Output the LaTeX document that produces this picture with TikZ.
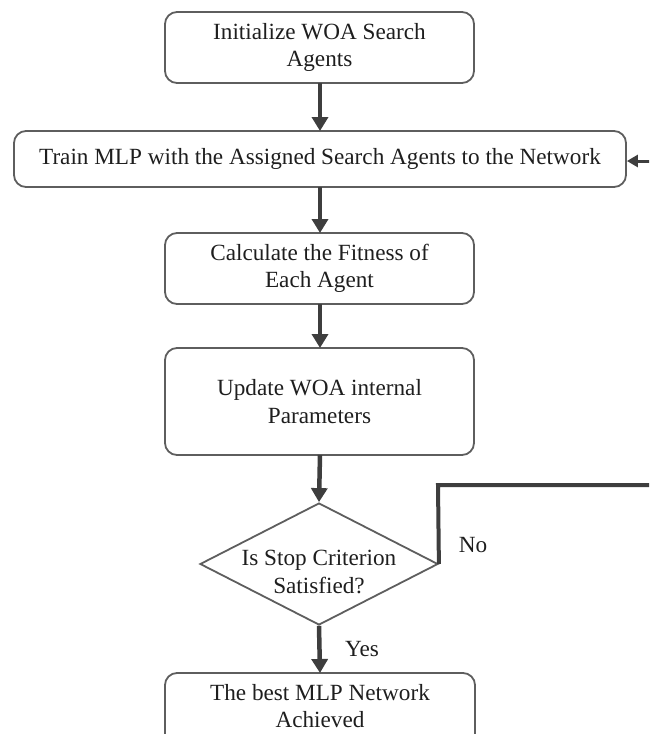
\documentclass[tikz,border=0pt]{standalone}
\usepackage{fontspec}
\setmainfont{Liberation Serif}
\usetikzlibrary{arrows.meta,shapes.geometric}
\definecolor{boxline}{HTML}{5E5E5E}
\definecolor{arrowc}{HTML}{3E3E3E}
\definecolor{txt}{HTML}{1E1E1E}
\begin{document}
\begin{tikzpicture}[x=1pt,y=-1pt,
  font=\fontsize{23.2}{27.5}\selectfont, text=txt,
  procbox/.style={draw=boxline, line width=1.8pt, rounded corners=12pt, align=center, inner sep=0pt},
  flow/.style={draw=arrowc, line width=4.5pt, -{Triangle[width=16pt,length=14pt]}},
  loopline/.style={draw=arrowc, line width=4pt}
]
\useasboundingbox (0,0) rectangle (649,734);
\clip (0,0) rectangle (649,734);
\node[procbox, minimum width=309pt, minimum height=71pt] (init) at (319.5,47.5) {Initialize WOA Search\\Agents};
\node[procbox, minimum width=612pt, minimum height=56pt] (train) at (320,159) {Train MLP with the Assigned Search Agents to the Network};
\node[procbox, minimum width=309pt, minimum height=71pt] (fit) at (319.5,268.5) {Calculate the Fitness of\\Each Agent};
\node[procbox, minimum width=309pt, minimum height=107pt] (upd) at (319.5,401.5) {Update WOA internal\\Parameters};
\node[draw=boxline, line width=1.8pt, diamond, minimum width=238pt, minimum height=122pt, inner sep=0pt] (dec) at (319,564) {};
\node[align=center] (dectext) at (319,572) {Is Stop Criterion\\Satisfied?};
\node[draw=boxline, line width=1.8pt, rounded corners=12pt, minimum width=310pt, minimum height=74pt] (best) at (320,710) {};
\node[align=center] (besttext) at (320,706) {The best MLP Network\\Achieved};
\node (no) at (473,545) {No};
\node (yes) at (362,649) {Yes};
\coordinate (loopA) at (438,485);
\coordinate (loopB) at (652,485);
\coordinate (inR) at (652,161);

\draw[flow] (320,83) -- (320,131);
\draw[flow] (320,187) -- (320,233);
\draw[flow] (320,304) -- (320,348);
\draw[flow] (320,455) -- (dec.north);
\draw[flow] (dec.south) -- (320,673);
\draw[loopline] (dec.east) -- (loopA) -- (loopB);
\draw[draw=arrowc, line width=3pt, -{Triangle[width=12pt,length=11pt]}] (inR) -- (train.east |- inR);
\end{tikzpicture}
\end{document}
